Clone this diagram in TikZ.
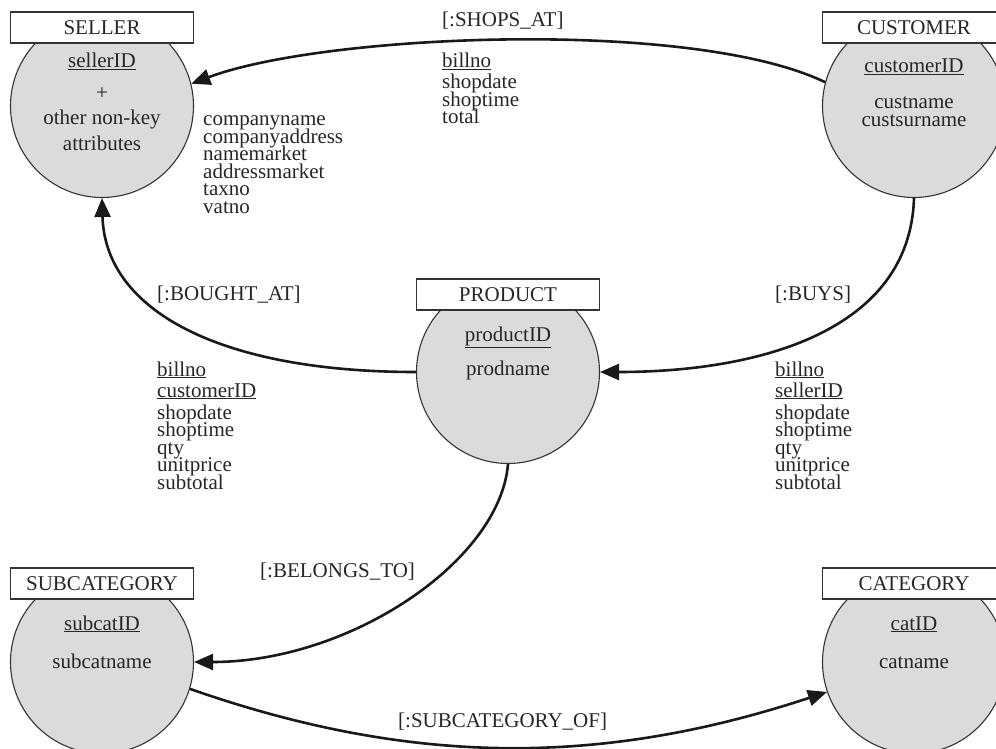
\documentclass[tikz,border=0pt]{standalone}
\usepackage{fontspec}
\setmainfont{Liberation Serif}
\usetikzlibrary{arrows.meta}

\tikzset{
  entity/.style={circle, draw=black!80, line width=1.1pt, fill=black!14, minimum size=183pt, inner sep=0pt},
  entbox/.style={rectangle, draw=black!80, line width=1.3pt, fill=white, minimum width=183pt, minimum height=31pt, inner sep=0pt, font=\fontsize{21}{17.4}\selectfont, text=black!85},
  attr/.style={anchor=base west, inner sep=0pt, font=\fontsize{21}{17.4}\selectfont, text=black!85},
  inattr/.style={anchor=base, inner sep=0pt, font=\fontsize{21}{17.4}\selectfont, text=black!85},
  rel/.style={line width=2.6pt, draw=black!90, -{Triangle[length=19pt,width=16pt]}}
}

\begin{document}
\begin{tikzpicture}[x=1pt, y=-1pt]
  \useasboundingbox (0,0) rectangle (996,749);

  % entities
  \node[entity] (seller) at (102,106) {};
  \node[entity] (customer) at (914,106) {};
  \node[entity] (product) at (508,372) {};
  \node[entity] (subcat) at (102,662) {};
  \node[entity] (category) at (914,662) {};

  \node[entbox] (sellerbox) at (102,27.5) {SELLER};
  \node[entbox] (customerbox) at (914,27.5) {CUSTOMER};
  \node[entbox] (productbox) at (508,294.5) {PRODUCT};
  \node[entbox] (subcatbox) at (102,583.5) {SUBCATEGORY};
  \node[entbox] (categorybox) at (914,583.5) {CATEGORY};

  % keys and attributes inside the circles
  \node[inattr] (sellerkey) at (102,68) {\underline{sellerID}};
  \node[inattr] (sellerplus) at (102,100) {+};
  \node[inattr] (sellerrest1) at (102,125) {other non-key};
  \node[inattr] (sellerrest2) at (102,150) {attributes};
  \node[inattr] (customerkey) at (914,73) {\underline{customerID}};
  \node[inattr] (customername) at (914,109) {custname};
  \node[inattr] (customersurname) at (914,127) {custsurname};
  \node[inattr] (productkey) at (508,341) {\underline{productID}};
  \node[inattr] (productname) at (508,375) {prodname};
  \node[inattr] (subcatkey) at (102,630) {\underline{subcatID}};
  \node[inattr] (subcatname) at (102,668) {subcatname};
  \node[inattr] (categorykey) at (914,630) {\underline{catID}};
  \node[inattr] (categoryname) at (914,668) {catname};

  % relationships
  \draw[rel] (customer.165) .. controls +(-133,-64) and +(133,-50) .. (seller.14);
  \draw[rel] (customer.south) .. controls +(-4,133) and +(159,0) .. (product.east);
  \draw[rel] (product.west) .. controls +(-197,0) and +(3,112) .. (seller.south);
  \draw[rel] (product.south) .. controls +(-8,97) and +(156,0) .. (subcat.east);
  \draw[rel] (subcat.-17) .. controls +(223,78) and +(-224,74) .. (category.199);

  \node[attr] (shopsat) at (442,27) {[:SHOPS\_AT]};
  \node[attr] (boughtat) at (157,300) {[:BOUGHT\_AT]};
  \node[attr] (buys) at (775,300) {[:BUYS]};
  \node[attr] (belongsto) at (260,577) {[:BELONGS\_TO]};
  \node[attr] (subcatof) at (398,727) {[:SUBCATEGORY\_OF]};

  % relationship and seller attributes
  \foreach \a [count=\i from 0] in {companyname,companyaddress,namemarket,addressmarket,taxno,vatno}
    \node[attr] (sa\i) at (203,126+17.4*\i) {\a};

  \node[attr] (shopsbill) at (442,68) {\underline{billno}};
  \foreach \a [count=\i from 0] in {shopdate,shoptime,total}
    \node[attr] (sh\i) at (442,89+17.5*\i) {\a};

  \node[attr] (boughtbill) at (157,376) {\underline{billno}};
  \node[attr] (boughtcust) at (157,397) {\underline{customerID}};
  \foreach \a [count=\i from 0] in {shopdate,shoptime,qty,unitprice,subtotal}
    \node[attr] (bo\i) at (157,419+17.5*\i) {\a};

  \node[attr] (buysbill) at (775,376) {\underline{billno}};
  \node[attr] (buysseller) at (775,397) {\underline{sellerID}};
  \foreach \a [count=\i from 0] in {shopdate,shoptime,qty,unitprice,subtotal}
    \node[attr] (bu\i) at (775,419+17.5*\i) {\a};
\end{tikzpicture}
\end{document}
